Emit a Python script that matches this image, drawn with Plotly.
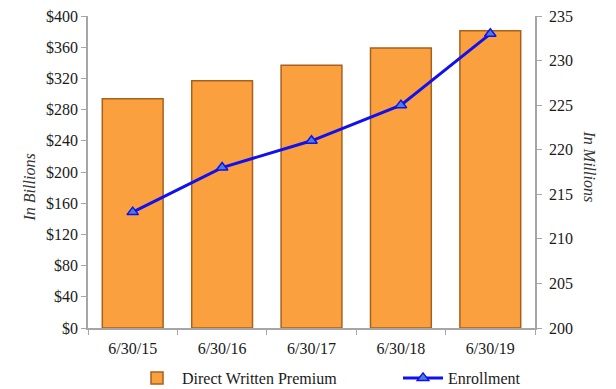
import plotly.graph_objects as go

# Fiscal year-end dates
periods = ["6/30/15", "6/30/16", "6/30/17", "6/30/18", "6/30/19"]
# Direct written premium, $ billions
premium = [294, 317, 337, 359, 381]
# Enrollment, millions
enrollment = [213, 218, 221, 225, 233]

left_ticks = list(range(0, 401, 40))
left_labels = [f"${v}" for v in left_ticks]
right_ticks = list(range(200, 236, 5))

serif = "Liberation Serif, Times New Roman, serif"
axis_grey = "#A6A6A6"
W, H = 616, 389
L, R, T, B = 88, 81, 16, 61

fig = go.Figure()

fig.add_trace(go.Bar(
    x=periods, y=premium, name="Direct Written Premium",
    marker=dict(color="#FBA03E", line=dict(color="#A8601C", width=1.5)),
    yaxis="y", legend="legend",
))

fig.add_trace(go.Scatter(
    x=periods, y=enrollment, name="Enrollment",
    mode="lines+markers",
    line=dict(color="#1010F0", width=3),
    marker=dict(symbol="triangle-up", size=10, color="#4A7FD8",
                line=dict(color="#1010F0", width=1.5)),
    yaxis="y2", legend="legend2",
))

legend_common = dict(orientation="h", xref="container", yref="container",
                     xanchor="left", yanchor="middle", y=(H - 378) / H,
                     font=dict(family=serif, size=16), itemwidth=40,
                     bgcolor="rgba(0,0,0,0)")

fig.update_layout(
    width=W, height=H,
    margin=dict(l=L, r=R, t=T, b=B, autoexpand=False),
    paper_bgcolor="white", plot_bgcolor="white",
    font=dict(family=serif, size=16, color="#1a1a1a"),
    bargap=0.32,
    showlegend=True,
    legend=dict(x=132 / W, **legend_common),
    legend2=dict(x=398 / W, **legend_common),
    xaxis=dict(
        type="category", showline=True, linecolor=axis_grey, linewidth=1.5,
        ticks="outside", tickson="boundaries", tickcolor=axis_grey, ticklen=5,
        showgrid=False, tickfont=dict(family=serif, size=16),
        ticklabelstandoff=5,
    ),
    yaxis=dict(
        range=[0, 400], tickvals=left_ticks, ticktext=left_labels,
        showline=True, linecolor=axis_grey, linewidth=1.5,
        ticks="outside", tickcolor=axis_grey, ticklen=5,
        showgrid=False, zeroline=False, tickfont=dict(family=serif, size=16),
    ),
    yaxis2=dict(
        range=[200, 235], tickvals=right_ticks, overlaying="y", side="right",
        showline=True, linecolor=axis_grey, linewidth=1.5,
        ticks="outside", tickcolor=axis_grey, ticklen=5,
        showgrid=False, zeroline=False, tickfont=dict(family=serif, size=16),
        ticklabelstandoff=4,
    ),
    annotations=[
        dict(text="<i>In Billions</i>", x=18 / W, y=1 - 188 / H,
             xref="paper", yref="paper", showarrow=False, textangle=-90,
             font=dict(family=serif, size=16, color="#333")),
        dict(text="<i>In Millions</i>", x=600 / W, y=1 - 166 / H,
             xref="paper", yref="paper", showarrow=False, textangle=90,
             font=dict(family=serif, size=16, color="#333")),
    ],
)

# Axis titles are positioned in pixels; convert them to paper coordinates
plot_w = W - L - R
plot_h = H - T - B
for ann in fig.layout.annotations:
    px = ann.x * W
    py = (1 - ann.y) * H
    ann.x = (px - L) / plot_w
    ann.y = (H - B - py) / plot_h

fig.write_html("out.html")
